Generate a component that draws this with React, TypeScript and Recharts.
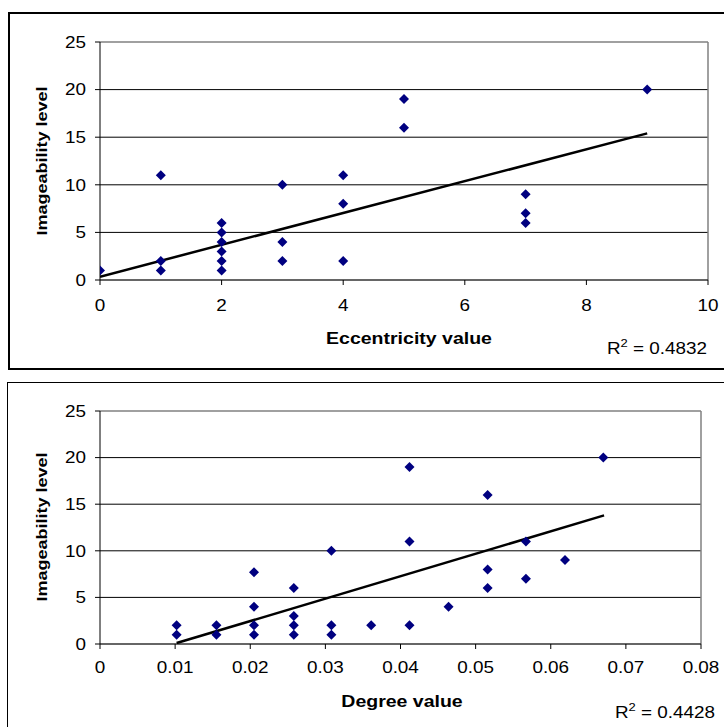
import React from 'react';
import { ScatterChart, Scatter, XAxis, YAxis, CartesianGrid, ReferenceLine } from 'recharts';

const FONT = '"Liberation Sans", Arial, sans-serif';
const SX = 1.18;

// Top chart: eccentricity vs imageability
const eccentricityValues = [0, 1, 1, 1, 2, 2, 2, 2, 2, 2, 3, 3, 3, 4, 4, 4, 5, 5, 7, 7, 7, 9];
const eccImageability = [1, 11, 2, 1, 6, 5, 4, 3, 2, 1, 10, 4, 2, 11, 8, 2, 19, 16, 9, 7, 6, 20];
const eccTrendX = [0, 9];
const eccTrendY = [0.35, 15.4];
const eccTicks = [0, 2, 4, 6, 8, 10];
const eccR2 = '0.4832';

// Bottom chart: degree vs imageability
const degreeValues = [
  0.0102, 0.0102, 0.0155, 0.0155, 0.0205, 0.0205, 0.0205, 0.0205, 0.0258, 0.0258, 0.0258, 0.0258,
  0.0308, 0.0308, 0.0308, 0.0361, 0.0412, 0.0412, 0.0412, 0.0464, 0.0516, 0.0516, 0.0516, 0.0567,
  0.0567, 0.0619, 0.067,
];
const degImageability = [
  2, 1, 2, 1, 7.7, 4, 2, 1, 6, 3, 2, 1,
  10, 2, 1, 2, 19, 11, 2, 4, 16, 8, 6, 11,
  7, 9, 20,
];
const degTrendX = [0.0102, 0.0671];
const degTrendY = [0.1, 13.8];
const degTicks = [0, 0.01, 0.02, 0.03, 0.04, 0.05, 0.06, 0.07, 0.08];
const degR2 = '0.4428';

const yTicks = [0, 5, 10, 15, 20, 25];
const gridValues = [5, 10, 15, 20];

const toPoints = (xs: number[], ys: number[]) => xs.map((x, i) => ({ x, y: ys[i] }));

const Diamond = (props: any) => {
  const { cx, cy } = props;
  if (cx == null || cy == null) return <g />;
  return (
    <polygon
      points={`${cx},${cy - 5} ${cx + 5},${cy} ${cx},${cy + 5} ${cx - 5},${cy}`}
      fill="#000080"
    />
  );
};

const NoDot = () => <g />;

const YTick = (props: any) => {
  const { x, y, payload } = props;
  return (
    <text
      transform={`translate(${x},${y}) scale(${SX},1)`}
      textAnchor="end"
      dy="0.36em"
      fontFamily={FONT}
      fontSize={16}
      fill="#000"
    >
      {String(payload.value)}
    </text>
  );
};

const makeXTick = (offset: number) => (props: any) => {
  const { x, y, payload } = props;
  return (
    <text
      transform={`translate(${x},${y + offset}) scale(${SX},1)`}
      textAnchor="middle"
      dy="0.36em"
      fontFamily={FONT}
      fontSize={16}
      fill="#000"
    >
      {String(payload.value)}
    </text>
  );
};

const TopXTick = makeXTick(18);
const BottomXTick = makeXTick(16);

interface PanelProps {
  points: { x: number; y: number }[];
  trend: { x: number; y: number }[];
  xDomain: [number, number];
  xTicks: number[];
  height: number;
  margin: { top: number; right: number; left: number; bottom: number };
  tick: any;
}

const Panel = ({ points, trend, xDomain, xTicks, height, margin, tick }: PanelProps) => (
  <ScatterChart width={724} height={height} margin={margin}>
    <CartesianGrid horizontal vertical={false} horizontalValues={gridValues} stroke="#000" strokeWidth={1} />
    <XAxis
      type="number"
      dataKey="x"
      domain={xDomain}
      ticks={xTicks}
      interval={0}
      height={30}
      tickSize={5}
      tickMargin={2}
      axisLine={{ stroke: '#333', strokeWidth: 1.5 }}
      tickLine={{ stroke: '#000' }}
      tick={tick}
      allowDataOverflow
    />
    <YAxis
      type="number"
      dataKey="y"
      domain={[0, 25]}
      ticks={yTicks}
      interval={0}
      width={100}
      tickSize={5}
      tickMargin={9}
      axisLine={{ stroke: '#000' }}
      tickLine={{ stroke: '#000' }}
      tick={<YTick />}
      allowDataOverflow
    />
    <ReferenceLine y={25} stroke="#808080" strokeWidth={1.5} />
    <ReferenceLine x={xDomain[1]} stroke="#808080" strokeWidth={1.5} />
    <Scatter
      data={trend}
      line={{ stroke: '#000', strokeWidth: 2.5 }}
      shape={<NoDot />}
      isAnimationActive={false}
      legendType="none"
    />
    <Scatter data={points} shape={<Diamond />} isAnimationActive={false} />
  </ScatterChart>
);

const R2Text = ({ x, y, value }: { x: number; y: number; value: string }) => (
  <text
    transform={`translate(${x},${y}) scale(${SX},1)`}
    textAnchor="end"
    fontFamily={FONT}
    fontSize={16}
    fill="#000"
  >
    R<tspan dy={-7} fontSize={11}>2</tspan>
    <tspan dy={7}> = {value}</tspan>
  </text>
);

const YTitle = ({ cy }: { cy: number }) => (
  <text
    transform={`translate(47,${cy}) rotate(-90) scale(1.2,1)`}
    textAnchor="middle"
    fontFamily={FONT}
    fontSize={15}
    fontWeight="bold"
    fill="#000"
  >
    Imageability level
  </text>
);

const XTitle = ({ x, y, label }: { x: number; y: number; label: string }) => (
  <text
    transform={`translate(${x},${y}) scale(1.22,1)`}
    textAnchor="middle"
    fontFamily={FONT}
    fontSize={16}
    fontWeight="bold"
    fill="#000"
  >
    {label}
  </text>
);

export default function App() {
  const eccPoints = toPoints(eccentricityValues, eccImageability);
  const eccTrend = toPoints(eccTrendX, eccTrendY);
  const degPoints = toPoints(degreeValues, degImageability);
  const degTrend = toPoints(degTrendX, degTrendY);

  return (
    <div
      style={{
        position: 'absolute',
        left: 0,
        top: 0,
        width: 724,
        height: 727,
        overflow: 'hidden',
        background: '#fff',
      }}
    >
      <div
        style={{
          position: 'absolute',
          left: 8,
          top: 12,
          width: 740,
          height: 358,
          border: '2px solid #000',
          boxSizing: 'border-box',
        }}
      />
      <div
        style={{
          position: 'absolute',
          left: 7,
          top: 382,
          width: 740,
          height: 360,
          border: '1px solid #000',
          boxSizing: 'border-box',
        }}
      />
      <div style={{ position: 'absolute', left: 0, top: 0 }}>
        <Panel
          points={eccPoints}
          trend={eccTrend}
          xDomain={[0, 10]}
          xTicks={eccTicks}
          height={370}
          margin={{ top: 42, right: 16, left: 0, bottom: 60 }}
          tick={<TopXTick />}
        />
      </div>
      <div style={{ position: 'absolute', left: 0, top: 370 }}>
        <Panel
          points={degPoints}
          trend={degTrend}
          xDomain={[0, 0.08]}
          xTicks={degTicks}
          height={357}
          margin={{ top: 41, right: 23, left: 0, bottom: 53 }}
          tick={<BottomXTick />}
        />
      </div>
      <svg
        width={724}
        height={727}
        style={{ position: 'absolute', left: 0, top: 0, pointerEvents: 'none' }}
      >
        <YTitle cy={161} />
        <YTitle cy={527} />
        <XTitle x={409} y={344} label="Eccentricity value" />
        <XTitle x={402} y={707} label="Degree value" />
        <R2Text x={707} y={354} value={eccR2} />
        <R2Text x={715} y={718} value={degR2} />
      </svg>
    </div>
  );
}
